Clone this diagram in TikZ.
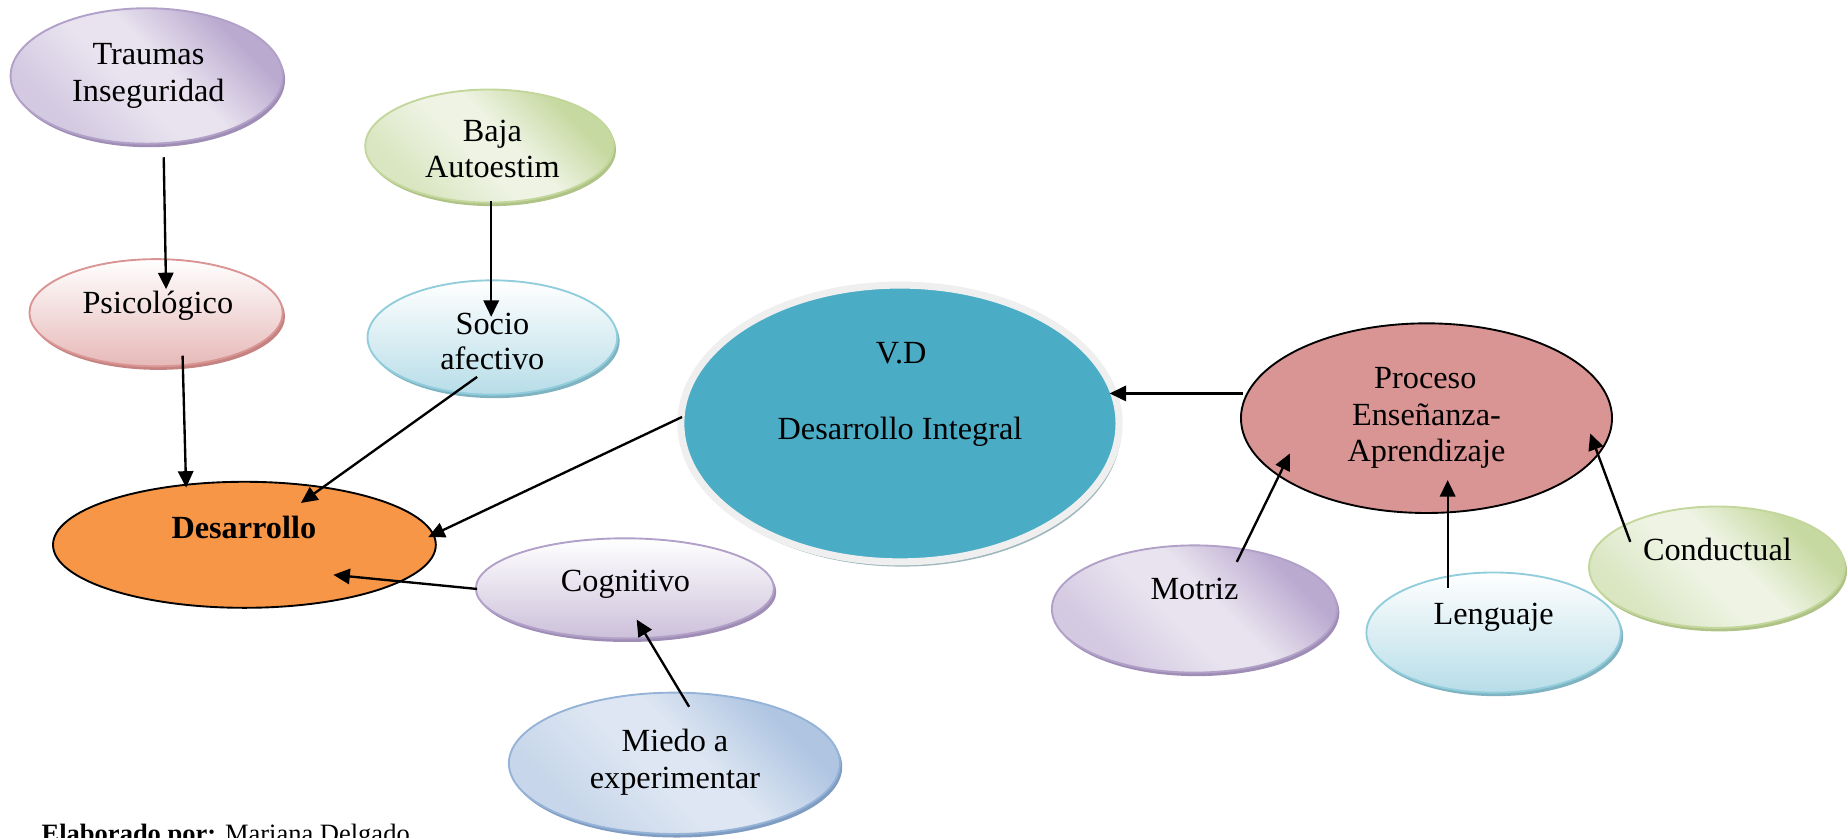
\documentclass[tikz,border=0pt]{standalone}
\usepackage{fontspec}
\setmainfont{Liberation Serif}
\usetikzlibrary{arrows.meta,calc,shadows,shapes.geometric}
\definecolor{purB}{HTML}{B1A0C7}
\definecolor{purD}{HTML}{BBAAD0}
\definecolor{purM}{HTML}{D3C9E1}
\definecolor{purL}{HTML}{E8E3EF}
\definecolor{purS}{HTML}{9F8DB6}
\definecolor{grnB}{HTML}{C3D69B}
\definecolor{grnD}{HTML}{C6D9A0}
\definecolor{grnM}{HTML}{DAE6C2}
\definecolor{grnL}{HTML}{EEF3E3}
\definecolor{grnS}{HTML}{AFC387}
\definecolor{redB}{HTML}{D99594}
\definecolor{redF}{HTML}{E6B9B8}
\definecolor{redS}{HTML}{C48281}
\definecolor{cyaB}{HTML}{92CDDC}
\definecolor{cyaF}{HTML}{B7DDE8}
\definecolor{cyaS}{HTML}{7FB3C2}
\definecolor{cogF}{HTML}{CCC0DA}
\definecolor{bluB}{HTML}{95B3D7}
\definecolor{bluD}{HTML}{AFC5E2}
\definecolor{bluM}{HTML}{C7D6EA}
\definecolor{bluL}{HTML}{DDE6F2}
\definecolor{bluS}{HTML}{7F9CC2}
\definecolor{vdF}{HTML}{4BACC6}
\definecolor{vdR}{HTML}{EFEFEF}
\definecolor{vdS}{HTML}{9DB7BD}
\definecolor{procF}{HTML}{D99594}
\definecolor{desaF}{HTML}{F79646}
\pgfdeclareverticalshading{purshade}{100bp}{color(0bp)=(purM); color(28bp)=(purM); color(45bp)=(purL); color(55bp)=(purL); color(72bp)=(purD); color(100bp)=(purD)}
\pgfdeclareverticalshading{grnshade}{100bp}{color(0bp)=(grnM); color(28bp)=(grnM); color(45bp)=(grnL); color(55bp)=(grnL); color(72bp)=(grnD); color(100bp)=(grnD)}
\pgfdeclareverticalshading{blushade}{100bp}{color(0bp)=(bluM); color(28bp)=(bluM); color(45bp)=(bluL); color(55bp)=(bluL); color(72bp)=(bluD); color(100bp)=(bluD)}
\begin{document}
\begin{tikzpicture}[x=0.5pt,y=-0.5pt,
  ell/.style={ellipse, inner sep=0pt, line width=0.8pt},
  shad/.style={drop shadow={shadow xshift=1pt, shadow yshift=-1.5pt, fill=#1, opacity=1}},
  diag/.style n args={3}{ell, draw=#1, shad=#3, shading=#2, shading angle=-45},
  vert/.style n args={3}{ell, draw=#1, shad=#3, shading=axis, top color=white, bottom color=#2},
  txt/.style={anchor=base, inner sep=0pt, font=\fontsize{13.7}{16}\selectfont},
  arr/.style={-{Triangle[length=7pt,width=6.5pt]}, line width=1pt}]
\useasboundingbox (0,0) rectangle (1568,711);

% ellipses
\node[diag={purB}{purshade}{purS}, minimum width=115.5pt, minimum height=57.5pt] (trauma) at (124.5,64.5) {};
\node[diag={grnB}{grnshade}{grnS}, minimum width=105.5pt, minimum height=48pt] (baja) at (415.5,124) {};
\node[vert={redB}{redF}{redS}, minimum width=107.5pt, minimum height=45.5pt] (psico) at (132.5,265.5) {};
\node[vert={cyaB}{cyaF}{cyaS}, minimum width=106pt, minimum height=48.5pt] (socio) at (418,286.5) {};
\node[ell, draw=vdR, fill=vdF, line width=3pt, drop shadow={shadow xshift=1pt, shadow yshift=-2pt, fill=vdS, opacity=1}, minimum width=186pt, minimum height=117.5pt] (vd) at (764,359.5) {};
\node[ell, draw=black, fill=procF, minimum width=157.5pt, minimum height=80.5pt] (proc) at (1211,355) {};
\node[ell, draw=black, fill=desaF, minimum width=162.5pt, minimum height=53.5pt] (desa) at (207.5,462.5) {};
\node[vert={purB}{cogF}{purS}, minimum width=126.5pt, minimum height=42.5pt] (cogn) at (530.5,499.5) {};
\node[diag={bluB}{blushade}{bluS}, minimum width=140.5pt, minimum height=60pt] (miedo) at (572.5,648) {};
\node[diag={purB}{purshade}{purS}, minimum width=121pt, minimum height=54pt] (motriz) at (1014,517) {};
\node[vert={cyaB}{cyaF}{cyaS}, minimum width=108pt, minimum height=51pt] (leng) at (1268,537) {};
\node[diag={grnB}{grnshade}{grnS}, minimum width=108.5pt, minimum height=51.5pt] (cond) at (1457.5,481.5) {};

% texts
\node[txt] (t1) at (126,55) {Traumas};
\node[txt] (t2) at (126,86.5) {Inseguridad};
\node[txt] (t3) at (418,120) {Baja};
\begin{scope}
\clip (300,60) rectangle (540,152);
\node[txt] (t4) at (418,151) {Autoestim};
\end{scope}
\node[txt] (t5) at (134,266) {Psicológico};
\node[txt] (t6) at (418,284) {Socio};
\begin{scope}
\clip (300,240) rectangle (540,315);
\node[txt] (t7) at (418,314) {afectivo};
\end{scope}
\node[txt] (t8) at (765,309) {V.D};
\node[txt] (t9) at (764,373) {Desarrollo Integral};
\node[txt] (t10) at (1210,330) {Proceso};
\node[txt] (t11) at (1211,361.5) {Enseñanza-};
\node[txt] (t12) at (1211,392) {Aprendizaje};
\node[txt, font=\fontsize{13.7}{16}\selectfont\bfseries] (t13) at (207,457) {Desarrollo};
\node[txt] (t14) at (531,502.5) {Cognitivo};
\node[txt] (t15) at (573,638) {Miedo a};
\node[txt] (t16) at (573,669) {experimentar};
\node[txt] (t17) at (1014,509) {Motriz};
\node[txt] (t18) at (1268,530.5) {Lenguaje};
\node[txt] (t19) at (1458,476) {Conductual};
\node[anchor=base west, inner sep=0pt, font=\fontsize{11.25}{13}\selectfont] (autor) at (35,715) {\textbf{Elaborado por:} Mariana Delgado};

% connectors
\draw[arr] ($(trauma.center)+(14.5,69)$) -- ($(psico.center)+(8.5,-20)$);
\draw[arr] ($(psico.center)+(22.5,36.5)$) -- ($(desa.center)+(-49.5,-48.5)$);
\draw[arr] ($(baja.center)+(1.5,47)$) -- ($(socio.center)+(-1,-17.5)$);
\draw[arr] ($(socio.center)+(-13,33.5)$) -- ($(desa.center)+(48,-35.5)$);
\draw[arr] ($(vd.center)+(-185,-5.5)$) -- ($(desa.center)+(156,-6.5)$);
\draw[arr] ($(cogn.center)+(-125.5,0.5)$) -- ($(desa.center)+(75.5,25.5)$);
\draw[arr] ($(miedo.center)+(12.5,-48)$) -- ($(cogn.center)+(10,26.5)$);
\draw[arr] ($(proc.center)+(-156,-21)$) -- ($(vd.center)+(178,-25.5)$);
\draw[arr] ($(motriz.center)+(36,-40)$) -- ($(proc.center)+(-116,30)$);
\draw[arr] ($(leng.center)+(-39,-38)$) -- ($(proc.center)+(18,52.5)$);
\draw[arr] ($(cond.center)+(-73.5,-21.5)$) -- ($(proc.center)+(139,13)$);
\end{tikzpicture}
\end{document}
